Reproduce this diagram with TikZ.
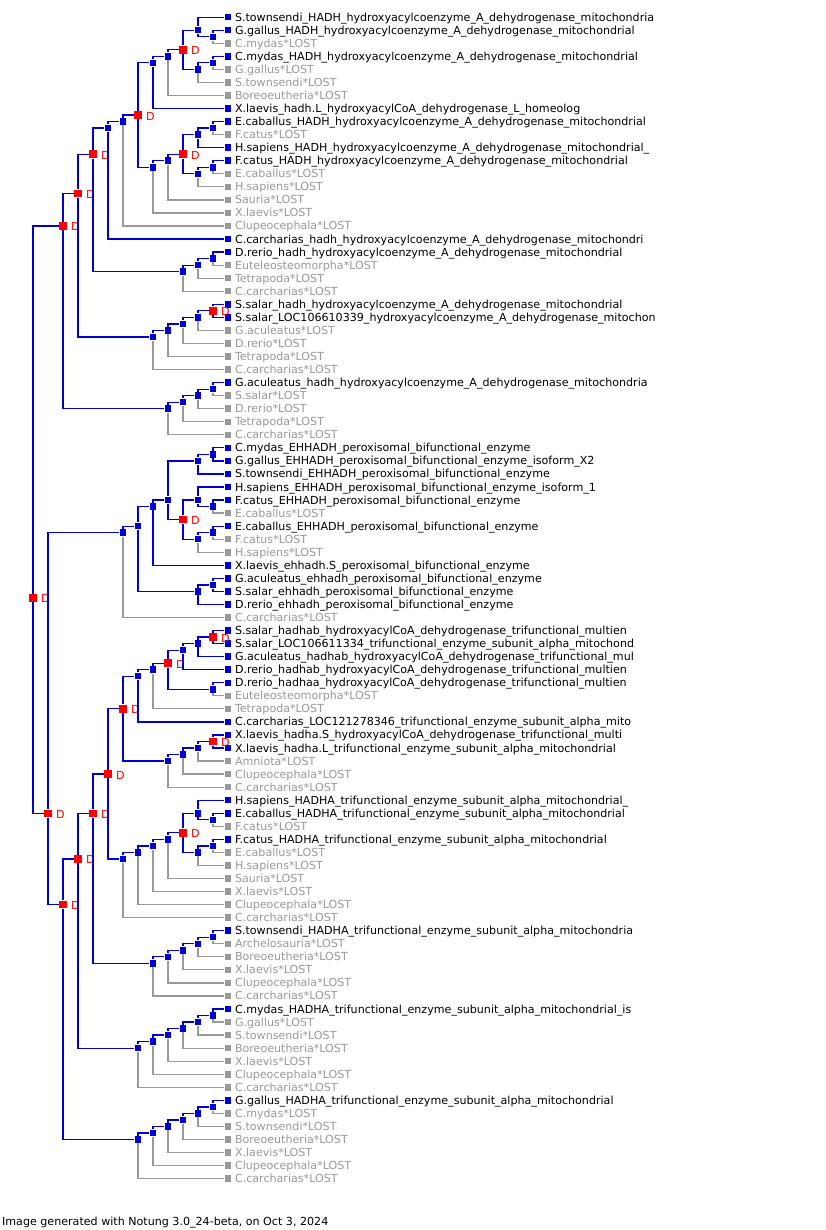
\documentclass[tikz,border=0pt]{standalone}
\usepackage{fontspec}
\setmainfont{DejaVu Sans}
\usetikzlibrary{positioning}
\definecolor{nblue}{RGB}{0,0,210}
\definecolor{dred}{RGB}{255,0,0}
\definecolor{lgray}{RGB}{153,153,153}
\newcommand{\labfont}{\fontsize{11.1}{13}\selectfont}
\begin{document}
\begin{tikzpicture}[x=1pt,y=-1pt,line width=1.25pt,
  declare function={ly(\i)=17.2+(\i-1)*13.05;},
  nd/.style={rectangle,minimum size=6.5pt,inner sep=0pt,fill=nblue},
  dup/.style={nd,minimum size=7.5pt,fill=dred,label={[dlab]east:D}},
  lost/.style={nd,fill=lgray},
  dlab/.style={text=dred,font=\labfont,inner sep=0pt,label distance=3pt,text height=8pt,text depth=0pt,yshift=-1pt},
  gtxt/.style={inner sep=0pt,font=\labfont,text height=8pt,text depth=0pt},
  ltxt/.style={gtxt,text=lgray},
  bl/.style={draw=nblue},gr/.style={draw=lgray}]
\path[use as bounding box,fill=white] (0,0) rectangle (826,1230);

% leaves
\node[nd] (l1) at (228,{ly(1)}) {}; \node[gtxt,right=2.5pt of l1] (t1) {S.townsendi\_HADH\_hydroxyacylcoenzyme\_A\_dehydrogenase\_mitochondria};
\node[nd] (l2) at (228,{ly(2)}) {}; \node[gtxt,right=2.5pt of l2] (t2) {G.gallus\_HADH\_hydroxyacylcoenzyme\_A\_dehydrogenase\_mitochondrial};
\node[lost] (l3) at (228,{ly(3)}) {}; \node[ltxt,right=2.5pt of l3] (t3) {C.mydas*LOST};
\node[nd] (l4) at (228,{ly(4)}) {}; \node[gtxt,right=2.5pt of l4] (t4) {C.mydas\_HADH\_hydroxyacylcoenzyme\_A\_dehydrogenase\_mitochondrial};
\node[lost] (l5) at (228,{ly(5)}) {}; \node[ltxt,right=2.5pt of l5] (t5) {G.gallus*LOST};
\node[lost] (l6) at (228,{ly(6)}) {}; \node[ltxt,right=2.5pt of l6] (t6) {S.townsendi*LOST};
\node[lost] (l7) at (228,{ly(7)}) {}; \node[ltxt,right=2.5pt of l7] (t7) {Boreoeutheria*LOST};
\node[nd] (l8) at (228,{ly(8)}) {}; \node[gtxt,right=2.5pt of l8] (t8) {X.laevis\_hadh.L\_hydroxyacylCoA\_dehydrogenase\_L\_homeolog};
\node[nd] (l9) at (228,{ly(9)}) {}; \node[gtxt,right=2.5pt of l9] (t9) {E.caballus\_HADH\_hydroxyacylcoenzyme\_A\_dehydrogenase\_mitochondrial};
\node[lost] (l10) at (228,{ly(10)}) {}; \node[ltxt,right=2.5pt of l10] (t10) {F.catus*LOST};
\node[nd] (l11) at (228,{ly(11)}) {}; \node[gtxt,right=2.5pt of l11] (t11) {H.sapiens\_HADH\_hydroxyacylcoenzyme\_A\_dehydrogenase\_mitochondrial\_};
\node[nd] (l12) at (228,{ly(12)}) {}; \node[gtxt,right=2.5pt of l12] (t12) {F.catus\_HADH\_hydroxyacylcoenzyme\_A\_dehydrogenase\_mitochondrial};
\node[lost] (l13) at (228,{ly(13)}) {}; \node[ltxt,right=2.5pt of l13] (t13) {E.caballus*LOST};
\node[lost] (l14) at (228,{ly(14)}) {}; \node[ltxt,right=2.5pt of l14] (t14) {H.sapiens*LOST};
\node[lost] (l15) at (228,{ly(15)}) {}; \node[ltxt,right=2.5pt of l15] (t15) {Sauria*LOST};
\node[lost] (l16) at (228,{ly(16)}) {}; \node[ltxt,right=2.5pt of l16] (t16) {X.laevis*LOST};
\node[lost] (l17) at (228,{ly(17)}) {}; \node[ltxt,right=2.5pt of l17] (t17) {Clupeocephala*LOST};
\node[nd] (l18) at (228,{ly(18)}) {}; \node[gtxt,right=2.5pt of l18] (t18) {C.carcharias\_hadh\_hydroxyacylcoenzyme\_A\_dehydrogenase\_mitochondri};
\node[nd] (l19) at (228,{ly(19)}) {}; \node[gtxt,right=2.5pt of l19] (t19) {D.rerio\_hadh\_hydroxyacylcoenzyme\_A\_dehydrogenase\_mitochondrial};
\node[lost] (l20) at (228,{ly(20)}) {}; \node[ltxt,right=2.5pt of l20] (t20) {Euteleosteomorpha*LOST};
\node[lost] (l21) at (228,{ly(21)}) {}; \node[ltxt,right=2.5pt of l21] (t21) {Tetrapoda*LOST};
\node[lost] (l22) at (228,{ly(22)}) {}; \node[ltxt,right=2.5pt of l22] (t22) {C.carcharias*LOST};
\node[nd] (l23) at (228,{ly(23)}) {}; \node[gtxt,right=2.5pt of l23] (t23) {S.salar\_hadh\_hydroxyacylcoenzyme\_A\_dehydrogenase\_mitochondrial};
\node[nd] (l24) at (228,{ly(24)}) {}; \node[gtxt,right=2.5pt of l24] (t24) {S.salar\_LOC106610339\_hydroxyacylcoenzyme\_A\_dehydrogenase\_mitochon};
\node[lost] (l25) at (228,{ly(25)}) {}; \node[ltxt,right=2.5pt of l25] (t25) {G.aculeatus*LOST};
\node[lost] (l26) at (228,{ly(26)}) {}; \node[ltxt,right=2.5pt of l26] (t26) {D.rerio*LOST};
\node[lost] (l27) at (228,{ly(27)}) {}; \node[ltxt,right=2.5pt of l27] (t27) {Tetrapoda*LOST};
\node[lost] (l28) at (228,{ly(28)}) {}; \node[ltxt,right=2.5pt of l28] (t28) {C.carcharias*LOST};
\node[nd] (l29) at (228,{ly(29)}) {}; \node[gtxt,right=2.5pt of l29] (t29) {G.aculeatus\_hadh\_hydroxyacylcoenzyme\_A\_dehydrogenase\_mitochondria};
\node[lost] (l30) at (228,{ly(30)}) {}; \node[ltxt,right=2.5pt of l30] (t30) {S.salar*LOST};
\node[lost] (l31) at (228,{ly(31)}) {}; \node[ltxt,right=2.5pt of l31] (t31) {D.rerio*LOST};
\node[lost] (l32) at (228,{ly(32)}) {}; \node[ltxt,right=2.5pt of l32] (t32) {Tetrapoda*LOST};
\node[lost] (l33) at (228,{ly(33)}) {}; \node[ltxt,right=2.5pt of l33] (t33) {C.carcharias*LOST};
\node[nd] (l34) at (228,{ly(34)}) {}; \node[gtxt,right=2.5pt of l34] (t34) {C.mydas\_EHHADH\_peroxisomal\_bifunctional\_enzyme};
\node[nd] (l35) at (228,{ly(35)}) {}; \node[gtxt,right=2.5pt of l35] (t35) {G.gallus\_EHHADH\_peroxisomal\_bifunctional\_enzyme\_isoform\_X2};
\node[nd] (l36) at (228,{ly(36)}) {}; \node[gtxt,right=2.5pt of l36] (t36) {S.townsendi\_EHHADH\_peroxisomal\_bifunctional\_enzyme};
\node[nd] (l37) at (228,{ly(37)}) {}; \node[gtxt,right=2.5pt of l37] (t37) {H.sapiens\_EHHADH\_peroxisomal\_bifunctional\_enzyme\_isoform\_1};
\node[nd] (l38) at (228,{ly(38)}) {}; \node[gtxt,right=2.5pt of l38] (t38) {F.catus\_EHHADH\_peroxisomal\_bifunctional\_enzyme};
\node[lost] (l39) at (228,{ly(39)}) {}; \node[ltxt,right=2.5pt of l39] (t39) {E.caballus*LOST};
\node[nd] (l40) at (228,{ly(40)}) {}; \node[gtxt,right=2.5pt of l40] (t40) {E.caballus\_EHHADH\_peroxisomal\_bifunctional\_enzyme};
\node[lost] (l41) at (228,{ly(41)}) {}; \node[ltxt,right=2.5pt of l41] (t41) {F.catus*LOST};
\node[lost] (l42) at (228,{ly(42)}) {}; \node[ltxt,right=2.5pt of l42] (t42) {H.sapiens*LOST};
\node[nd] (l43) at (228,{ly(43)}) {}; \node[gtxt,right=2.5pt of l43] (t43) {X.laevis\_ehhadh.S\_peroxisomal\_bifunctional\_enzyme};
\node[nd] (l44) at (228,{ly(44)}) {}; \node[gtxt,right=2.5pt of l44] (t44) {G.aculeatus\_ehhadh\_peroxisomal\_bifunctional\_enzyme};
\node[nd] (l45) at (228,{ly(45)}) {}; \node[gtxt,right=2.5pt of l45] (t45) {S.salar\_ehhadh\_peroxisomal\_bifunctional\_enzyme};
\node[nd] (l46) at (228,{ly(46)}) {}; \node[gtxt,right=2.5pt of l46] (t46) {D.rerio\_ehhadh\_peroxisomal\_bifunctional\_enzyme};
\node[lost] (l47) at (228,{ly(47)}) {}; \node[ltxt,right=2.5pt of l47] (t47) {C.carcharias*LOST};
\node[nd] (l48) at (228,{ly(48)}) {}; \node[gtxt,right=2.5pt of l48] (t48) {S.salar\_hadhab\_hydroxyacylCoA\_dehydrogenase\_trifunctional\_multien};
\node[nd] (l49) at (228,{ly(49)}) {}; \node[gtxt,right=2.5pt of l49] (t49) {S.salar\_LOC106611334\_trifunctional\_enzyme\_subunit\_alpha\_mitochond};
\node[nd] (l50) at (228,{ly(50)}) {}; \node[gtxt,right=2.5pt of l50] (t50) {G.aculeatus\_hadhab\_hydroxyacylCoA\_dehydrogenase\_trifunctional\_mul};
\node[nd] (l51) at (228,{ly(51)}) {}; \node[gtxt,right=2.5pt of l51] (t51) {D.rerio\_hadhab\_hydroxyacylCoA\_dehydrogenase\_trifunctional\_multien};
\node[nd] (l52) at (228,{ly(52)}) {}; \node[gtxt,right=2.5pt of l52] (t52) {D.rerio\_hadhaa\_hydroxyacylCoA\_dehydrogenase\_trifunctional\_multien};
\node[lost] (l53) at (228,{ly(53)}) {}; \node[ltxt,right=2.5pt of l53] (t53) {Euteleosteomorpha*LOST};
\node[lost] (l54) at (228,{ly(54)}) {}; \node[ltxt,right=2.5pt of l54] (t54) {Tetrapoda*LOST};
\node[nd] (l55) at (228,{ly(55)}) {}; \node[gtxt,right=2.5pt of l55] (t55) {C.carcharias\_LOC121278346\_trifunctional\_enzyme\_subunit\_alpha\_mito};
\node[nd] (l56) at (228,{ly(56)}) {}; \node[gtxt,right=2.5pt of l56] (t56) {X.laevis\_hadha.S\_hydroxyacylCoA\_dehydrogenase\_trifunctional\_multi};
\node[nd] (l57) at (228,{ly(57)}) {}; \node[gtxt,right=2.5pt of l57] (t57) {X.laevis\_hadha.L\_trifunctional\_enzyme\_subunit\_alpha\_mitochondrial};
\node[lost] (l58) at (228,{ly(58)}) {}; \node[ltxt,right=2.5pt of l58] (t58) {Amniota*LOST};
\node[lost] (l59) at (228,{ly(59)}) {}; \node[ltxt,right=2.5pt of l59] (t59) {Clupeocephala*LOST};
\node[lost] (l60) at (228,{ly(60)}) {}; \node[ltxt,right=2.5pt of l60] (t60) {C.carcharias*LOST};
\node[nd] (l61) at (228,{ly(61)}) {}; \node[gtxt,right=2.5pt of l61] (t61) {H.sapiens\_HADHA\_trifunctional\_enzyme\_subunit\_alpha\_mitochondrial\_};
\node[nd] (l62) at (228,{ly(62)}) {}; \node[gtxt,right=2.5pt of l62] (t62) {E.caballus\_HADHA\_trifunctional\_enzyme\_subunit\_alpha\_mitochondrial};
\node[lost] (l63) at (228,{ly(63)}) {}; \node[ltxt,right=2.5pt of l63] (t63) {F.catus*LOST};
\node[nd] (l64) at (228,{ly(64)}) {}; \node[gtxt,right=2.5pt of l64] (t64) {F.catus\_HADHA\_trifunctional\_enzyme\_subunit\_alpha\_mitochondrial};
\node[lost] (l65) at (228,{ly(65)}) {}; \node[ltxt,right=2.5pt of l65] (t65) {E.caballus*LOST};
\node[lost] (l66) at (228,{ly(66)}) {}; \node[ltxt,right=2.5pt of l66] (t66) {H.sapiens*LOST};
\node[lost] (l67) at (228,{ly(67)}) {}; \node[ltxt,right=2.5pt of l67] (t67) {Sauria*LOST};
\node[lost] (l68) at (228,{ly(68)}) {}; \node[ltxt,right=2.5pt of l68] (t68) {X.laevis*LOST};
\node[lost] (l69) at (228,{ly(69)}) {}; \node[ltxt,right=2.5pt of l69] (t69) {Clupeocephala*LOST};
\node[lost] (l70) at (228,{ly(70)}) {}; \node[ltxt,right=2.5pt of l70] (t70) {C.carcharias*LOST};
\node[nd] (l71) at (228,{ly(71)}) {}; \node[gtxt,right=2.5pt of l71] (t71) {S.townsendi\_HADHA\_trifunctional\_enzyme\_subunit\_alpha\_mitochondria};
\node[lost] (l72) at (228,{ly(72)}) {}; \node[ltxt,right=2.5pt of l72] (t72) {Archelosauria*LOST};
\node[lost] (l73) at (228,{ly(73)}) {}; \node[ltxt,right=2.5pt of l73] (t73) {Boreoeutheria*LOST};
\node[lost] (l74) at (228,{ly(74)}) {}; \node[ltxt,right=2.5pt of l74] (t74) {X.laevis*LOST};
\node[lost] (l75) at (228,{ly(75)}) {}; \node[ltxt,right=2.5pt of l75] (t75) {Clupeocephala*LOST};
\node[lost] (l76) at (228,{ly(76)}) {}; \node[ltxt,right=2.5pt of l76] (t76) {C.carcharias*LOST};
\node[nd] (l77) at (228,{ly(77)}) {}; \node[gtxt,right=2.5pt of l77] (t77) {C.mydas\_HADHA\_trifunctional\_enzyme\_subunit\_alpha\_mitochondrial\_is};
\node[lost] (l78) at (228,{ly(78)}) {}; \node[ltxt,right=2.5pt of l78] (t78) {G.gallus*LOST};
\node[lost] (l79) at (228,{ly(79)}) {}; \node[ltxt,right=2.5pt of l79] (t79) {S.townsendi*LOST};
\node[lost] (l80) at (228,{ly(80)}) {}; \node[ltxt,right=2.5pt of l80] (t80) {Boreoeutheria*LOST};
\node[lost] (l81) at (228,{ly(81)}) {}; \node[ltxt,right=2.5pt of l81] (t81) {X.laevis*LOST};
\node[lost] (l82) at (228,{ly(82)}) {}; \node[ltxt,right=2.5pt of l82] (t82) {Clupeocephala*LOST};
\node[lost] (l83) at (228,{ly(83)}) {}; \node[ltxt,right=2.5pt of l83] (t83) {C.carcharias*LOST};
\node[nd] (l84) at (228,{ly(84)}) {}; \node[gtxt,right=2.5pt of l84] (t84) {G.gallus\_HADHA\_trifunctional\_enzyme\_subunit\_alpha\_mitochondrial};
\node[lost] (l85) at (228,{ly(85)}) {}; \node[ltxt,right=2.5pt of l85] (t85) {C.mydas*LOST};
\node[lost] (l86) at (228,{ly(86)}) {}; \node[ltxt,right=2.5pt of l86] (t86) {S.townsendi*LOST};
\node[lost] (l87) at (228,{ly(87)}) {}; \node[ltxt,right=2.5pt of l87] (t87) {Boreoeutheria*LOST};
\node[lost] (l88) at (228,{ly(88)}) {}; \node[ltxt,right=2.5pt of l88] (t88) {X.laevis*LOST};
\node[lost] (l89) at (228,{ly(89)}) {}; \node[ltxt,right=2.5pt of l89] (t89) {Clupeocephala*LOST};
\node[lost] (l90) at (228,{ly(90)}) {}; \node[ltxt,right=2.5pt of l90] (t90) {C.carcharias*LOST};

% HADH
\node[nd] (c2t3) at (213,{ly(2.5)}) {}; \node[nd] (c1t3) at (198,{ly(2)}) {};
\node[nd] (c4t5) at (213,{ly(4.5)}) {}; \node[nd] (c4t6) at (198,{ly(5)}) {};
\node[dup] (c1t6) at (183,{ly(3.5)}) {}; \node[nd] (c1t7) at (168,{ly(4)}) {}; \node[nd] (c1t8) at (153,{ly(4.5)}) {};
\node[nd] (c9t10) at (213,{ly(9.5)}) {}; \node[nd] (c9t11) at (198,{ly(10)}) {};
\node[nd] (c12t13) at (213,{ly(12.5)}) {}; \node[nd] (c12t14) at (198,{ly(13)}) {};
\node[dup] (c9t14) at (183,{ly(11.5)}) {}; \node[nd] (c9t15) at (168,{ly(12)}) {}; \node[nd] (c9t16) at (153,{ly(12.5)}) {};
\node[dup] (c1t16) at (138,{ly(8.5)}) {}; \node[nd] (c1t17) at (123,{ly(9)}) {}; \node[nd] (c1t18) at (108,{ly(9.5)}) {};
\node[nd] (c19t20) at (213,{ly(19.5)}) {}; \node[nd] (c19t21) at (198,{ly(20)}) {}; \node[nd] (c19t22) at (183,{ly(20.5)}) {};
\node[dup] (c1t22) at (93,{ly(11.5)}) {};
\node[dup] (c23t24) at (213,{ly(23.5)}) {}; \node[nd] (c23t25) at (198,{ly(24)}) {}; \node[nd] (c23t26) at (183,{ly(24.5)}) {};
\node[nd] (c23t27) at (168,{ly(25)}) {}; \node[nd] (c23t28) at (153,{ly(25.5)}) {};
\node[dup] (c1t28) at (78,{ly(14.5)}) {};
\node[nd] (c29t30) at (213,{ly(29.5)}) {}; \node[nd] (c29t31) at (198,{ly(30)}) {}; \node[nd] (c29t32) at (183,{ly(30.5)}) {};
\node[nd] (c29t33) at (168,{ly(31)}) {};
\node[dup] (c1t33) at (63,{ly(17)}) {};
% EHHADH
\node[nd] (c34t35) at (213,{ly(34.5)}) {}; \node[nd] (c34t36) at (198,{ly(35)}) {};
\node[nd] (c38t39) at (213,{ly(38.5)}) {}; \node[nd] (c37t39) at (198,{ly(38)}) {};
\node[nd] (c40t41) at (213,{ly(40.5)}) {}; \node[nd] (c40t42) at (198,{ly(41)}) {};
\node[dup] (c37t42) at (183,{ly(39.5)}) {}; \node[nd] (c34t42) at (168,{ly(38)}) {}; \node[nd] (c34t43) at (153,{ly(38.5)}) {};
\node[nd] (c44t45) at (213,{ly(44.5)}) {}; \node[nd] (c44t46) at (198,{ly(45)}) {};
\node[nd] (c34t46) at (138,{ly(40)}) {}; \node[nd] (c34t47) at (123,{ly(40.5)}) {};
% HADHA
\node[dup] (c48t49) at (213,{ly(48.5)}) {}; \node[nd] (c48t50) at (198,{ly(49)}) {}; \node[nd] (c48t51) at (183,{ly(49.5)}) {};
\node[nd] (c52t53) at (213,{ly(52.5)}) {}; \node[dup] (c48t53) at (168,{ly(50.5)}) {};
\node[nd] (c48t54) at (153,{ly(51)}) {}; \node[nd] (c48t55) at (138,{ly(51.5)}) {};
\node[dup] (c56t57) at (213,{ly(56.5)}) {}; \node[nd] (c56t58) at (198,{ly(57)}) {}; \node[nd] (c56t59) at (183,{ly(57.5)}) {};
\node[nd] (c56t60) at (168,{ly(58)}) {};
\node[dup] (c48t60) at (123,{ly(54)}) {};
\node[nd] (c62t63) at (213,{ly(62.5)}) {}; \node[nd] (c61t63) at (198,{ly(62)}) {};
\node[nd] (c64t65) at (213,{ly(64.5)}) {}; \node[nd] (c64t66) at (198,{ly(65)}) {};
\node[dup] (c61t66) at (183,{ly(63.5)}) {}; \node[nd] (c61t67) at (168,{ly(64)}) {}; \node[nd] (c61t68) at (153,{ly(64.5)}) {};
\node[nd] (c61t69) at (138,{ly(65)}) {}; \node[nd] (c61t70) at (123,{ly(65.5)}) {};
\node[dup] (c48t70) at (108,{ly(59)}) {};
\node[nd] (c71t72) at (213,{ly(71.5)}) {}; \node[nd] (c71t73) at (198,{ly(72)}) {}; \node[nd] (c71t74) at (183,{ly(72.5)}) {};
\node[nd] (c71t75) at (168,{ly(73)}) {}; \node[nd] (c71t76) at (153,{ly(73.5)}) {};
\node[dup] (c48t76) at (93,{ly(62)}) {};
\node[nd] (c77t78) at (213,{ly(77.5)}) {}; \node[nd] (c77t79) at (198,{ly(78)}) {}; \node[nd] (c77t80) at (183,{ly(78.5)}) {};
\node[nd] (c77t81) at (168,{ly(79)}) {}; \node[nd] (c77t82) at (153,{ly(79.5)}) {}; \node[nd] (c77t83) at (138,{ly(80)}) {};
\node[dup] (c48t83) at (78,{ly(65.5)}) {};
\node[nd] (c84t85) at (213,{ly(84.5)}) {}; \node[nd] (c84t86) at (198,{ly(85)}) {}; \node[nd] (c84t87) at (183,{ly(85.5)}) {};
\node[nd] (c84t88) at (168,{ly(86)}) {}; \node[nd] (c84t89) at (153,{ly(86.5)}) {}; \node[nd] (c84t90) at (138,{ly(87)}) {};
\node[dup] (c48t90) at (63,{ly(69)}) {};
\node[dup] (c34t90) at (48,{ly(62)}) {};
\node[dup] (c1t90) at (33,{ly(45.5)}) {};

% branches
\draw[bl] (c2t3) |- (l2); \draw[gr] (c2t3) |- (l3);
\draw[bl] (c1t3) |- (l1) (c1t3) |- (c2t3);
\draw[bl] (c4t5) |- (l4); \draw[gr] (c4t5) |- (l5);
\draw[bl] (c4t6) |- (c4t5); \draw[gr] (c4t6) |- (l6);
\draw[bl] (c1t6) |- (c1t3) (c1t6) |- (c4t6);
\draw[bl] (c1t7) |- (c1t6); \draw[gr] (c1t7) |- (l7);
\draw[bl] (c1t8) |- (c1t7) (c1t8) |- (l8);
\draw[bl] (c9t10) |- (l9); \draw[gr] (c9t10) |- (l10);
\draw[bl] (c9t11) |- (c9t10) (c9t11) |- (l11);
\draw[bl] (c12t13) |- (l12); \draw[gr] (c12t13) |- (l13);
\draw[bl] (c12t14) |- (c12t13); \draw[gr] (c12t14) |- (l14);
\draw[bl] (c9t14) |- (c9t11) (c9t14) |- (c12t14);
\draw[bl] (c9t15) |- (c9t14); \draw[gr] (c9t15) |- (l15);
\draw[bl] (c9t16) |- (c9t15); \draw[gr] (c9t16) |- (l16);
\draw[bl] (c1t16) |- (c1t8) (c1t16) |- (c9t16);
\draw[bl] (c1t17) |- (c1t16); \draw[gr] (c1t17) |- (l17);
\draw[bl] (c1t18) |- (c1t17) (c1t18) |- (l18);
\draw[bl] (c19t20) |- (l19); \draw[gr] (c19t20) |- (l20);
\draw[bl] (c19t21) |- (c19t20); \draw[gr] (c19t21) |- (l21);
\draw[bl] (c19t22) |- (c19t21); \draw[gr] (c19t22) |- (l22);
\draw[bl] (c1t22) |- (c1t18) (c1t22) |- (c19t22);
\draw[bl] (c23t24) |- (l23) (c23t24) |- (l24);
\draw[bl] (c23t25) |- (c23t24); \draw[gr] (c23t25) |- (l25);
\draw[bl] (c23t26) |- (c23t25); \draw[gr] (c23t26) |- (l26);
\draw[bl] (c23t27) |- (c23t26); \draw[gr] (c23t27) |- (l27);
\draw[bl] (c23t28) |- (c23t27); \draw[gr] (c23t28) |- (l28);
\draw[bl] (c1t28) |- (c1t22) (c1t28) |- (c23t28);
\draw[bl] (c29t30) |- (l29); \draw[gr] (c29t30) |- (l30);
\draw[bl] (c29t31) |- (c29t30); \draw[gr] (c29t31) |- (l31);
\draw[bl] (c29t32) |- (c29t31); \draw[gr] (c29t32) |- (l32);
\draw[bl] (c29t33) |- (c29t32); \draw[gr] (c29t33) |- (l33);
\draw[bl] (c1t33) |- (c1t28) (c1t33) |- (c29t33);
\draw[bl] (c34t35) |- (l34) (c34t35) |- (l35);
\draw[bl] (c34t36) |- (c34t35) (c34t36) |- (l36);
\draw[bl] (c38t39) |- (l38); \draw[gr] (c38t39) |- (l39);
\draw[bl] (c37t39) |- (l37) (c37t39) |- (c38t39);
\draw[bl] (c40t41) |- (l40); \draw[gr] (c40t41) |- (l41);
\draw[bl] (c40t42) |- (c40t41); \draw[gr] (c40t42) |- (l42);
\draw[bl] (c37t42) |- (c37t39) (c37t42) |- (c40t42);
\draw[bl] (c34t42) |- (c34t36) (c34t42) |- (c37t42);
\draw[bl] (c34t43) |- (c34t42) (c34t43) |- (l43);
\draw[bl] (c44t45) |- (l44) (c44t45) |- (l45);
\draw[bl] (c44t46) |- (c44t45) (c44t46) |- (l46);
\draw[bl] (c34t46) |- (c34t43) (c34t46) |- (c44t46);
\draw[bl] (c34t47) |- (c34t46); \draw[gr] (c34t47) |- (l47);
\draw[bl] (c48t49) |- (l48) (c48t49) |- (l49);
\draw[bl] (c48t50) |- (c48t49) (c48t50) |- (l50);
\draw[bl] (c48t51) |- (c48t50) (c48t51) |- (l51);
\draw[bl] (c52t53) |- (l52); \draw[gr] (c52t53) |- (l53);
\draw[bl] (c48t53) |- (c48t51) (c48t53) |- (c52t53);
\draw[bl] (c48t54) |- (c48t53); \draw[gr] (c48t54) |- (l54);
\draw[bl] (c48t55) |- (c48t54) (c48t55) |- (l55);
\draw[bl] (c56t57) |- (l56) (c56t57) |- (l57);
\draw[bl] (c56t58) |- (c56t57); \draw[gr] (c56t58) |- (l58);
\draw[bl] (c56t59) |- (c56t58); \draw[gr] (c56t59) |- (l59);
\draw[bl] (c56t60) |- (c56t59); \draw[gr] (c56t60) |- (l60);
\draw[bl] (c48t60) |- (c48t55) (c48t60) |- (c56t60);
\draw[bl] (c62t63) |- (l62); \draw[gr] (c62t63) |- (l63);
\draw[bl] (c61t63) |- (l61) (c61t63) |- (c62t63);
\draw[bl] (c64t65) |- (l64); \draw[gr] (c64t65) |- (l65);
\draw[bl] (c64t66) |- (c64t65); \draw[gr] (c64t66) |- (l66);
\draw[bl] (c61t66) |- (c61t63) (c61t66) |- (c64t66);
\draw[bl] (c61t67) |- (c61t66); \draw[gr] (c61t67) |- (l67);
\draw[bl] (c61t68) |- (c61t67); \draw[gr] (c61t68) |- (l68);
\draw[bl] (c61t69) |- (c61t68); \draw[gr] (c61t69) |- (l69);
\draw[bl] (c61t70) |- (c61t69); \draw[gr] (c61t70) |- (l70);
\draw[bl] (c48t70) |- (c48t60) (c48t70) |- (c61t70);
\draw[bl] (c71t72) |- (l71); \draw[gr] (c71t72) |- (l72);
\draw[bl] (c71t73) |- (c71t72); \draw[gr] (c71t73) |- (l73);
\draw[bl] (c71t74) |- (c71t73); \draw[gr] (c71t74) |- (l74);
\draw[bl] (c71t75) |- (c71t74); \draw[gr] (c71t75) |- (l75);
\draw[bl] (c71t76) |- (c71t75); \draw[gr] (c71t76) |- (l76);
\draw[bl] (c48t76) |- (c48t70) (c48t76) |- (c71t76);
\draw[bl] (c77t78) |- (l77); \draw[gr] (c77t78) |- (l78);
\draw[bl] (c77t79) |- (c77t78); \draw[gr] (c77t79) |- (l79);
\draw[bl] (c77t80) |- (c77t79); \draw[gr] (c77t80) |- (l80);
\draw[bl] (c77t81) |- (c77t80); \draw[gr] (c77t81) |- (l81);
\draw[bl] (c77t82) |- (c77t81); \draw[gr] (c77t82) |- (l82);
\draw[bl] (c77t83) |- (c77t82); \draw[gr] (c77t83) |- (l83);
\draw[bl] (c48t83) |- (c48t76) (c48t83) |- (c77t83);
\draw[bl] (c84t85) |- (l84); \draw[gr] (c84t85) |- (l85);
\draw[bl] (c84t86) |- (c84t85); \draw[gr] (c84t86) |- (l86);
\draw[bl] (c84t87) |- (c84t86); \draw[gr] (c84t87) |- (l87);
\draw[bl] (c84t88) |- (c84t87); \draw[gr] (c84t88) |- (l88);
\draw[bl] (c84t89) |- (c84t88); \draw[gr] (c84t89) |- (l89);
\draw[bl] (c84t90) |- (c84t89); \draw[gr] (c84t90) |- (l90);
\draw[bl] (c48t90) |- (c48t83) (c48t90) |- (c84t90);
\draw[bl] (c34t90) |- (c34t47) (c34t90) |- (c48t90);
\draw[bl] (c1t90) |- (c1t33) (c1t90) |- (c34t90);

\node[gtxt,anchor=west] (foot) at (1.5,1221) {Image generated with Notung 3.0\_24-beta, on Oct 3, 2024};
\end{tikzpicture}
\end{document}
